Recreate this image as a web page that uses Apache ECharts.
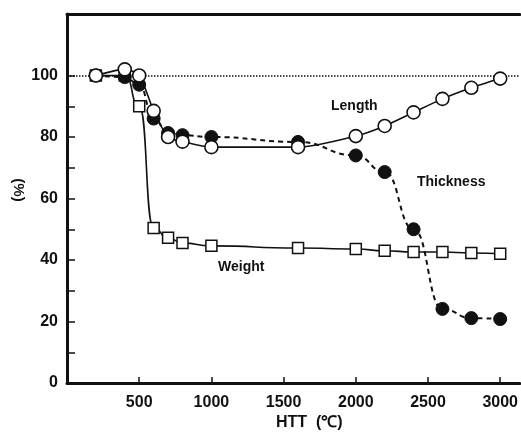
<!DOCTYPE html>
<html>
<head>
<meta charset="utf-8">
<script src="https://cdn.jsdelivr.net/npm/echarts@6/dist/echarts.min.js"></script>
<style>
  html, body { margin: 0; padding: 0; background: #fff; }
  #chart { width: 521px; height: 436px; }
</style>
</head>
<body>
<div id="chart"></div>
<script>
// heat treatment temperature (℃)
const htt = [200, 400, 500, 600, 700, 800, 1000, 1600, 2000, 2200, 2400, 2600, 2800, 3000]
// values in % of the original
const lengthPct = [100, 102, 100, 88.5, 80, 78.5, 76.7, 76.7, 80.3, 83.6, 88, 92.4, 96, 99]
const thicknessPct = [100, 99.5, 97, 86, 81.3, 80.6, 80, 78.4, 74, 68.6, 50, 24.1, 21.1, 20.8]
const weightPct = [100, 100, 90, 50.4, 47.2, 45.5, 44.6, 43.9, 43.6, 43, 42.6, 42.6, 42.3, 42]

const xTicks = [500, 1000, 1500, 2000, 2500, 3000]
const yLabels = [0, 20, 40, 60, 80, 100]
const yTicks = [0, 10, 20, 30, 40, 50, 60, 70, 80, 90, 100]

const ink = '#111'
const font = 'Liberation Sans, Arial, sans-serif'
const xMax = 3135

const pairs = vals => htt.map((x, i) => [x, vals[i]])

const chart = echarts.init(document.getElementById('chart'))

const option = {
  animation: false,
  backgroundColor: '#fff',
  grid: { left: 67, right: 0, top: 14, bottom: 53 },
  xAxis: [
    {
      type: 'value',
      min: 0,
      max: xMax,
      splitLine: { show: false },
      axisLine: { lineStyle: { color: ink, width: 3 } },
      axisTick: { inside: true, length: 6, customValues: xTicks, lineStyle: { color: ink, width: 1.5 } },
      axisLabel: {
        customValues: xTicks,
        formatter: v => String(v),
        margin: 12,
        color: ink,
        fontSize: 16,
        fontWeight: 'bold',
        fontFamily: font
      }
    },
    {
      // top frame line
      type: 'value',
      position: 'top',
      min: 0,
      max: xMax,
      splitLine: { show: false },
      axisLine: { lineStyle: { color: ink, width: 3 } },
      axisTick: { show: false },
      axisLabel: { show: false }
    }
  ],
  yAxis: {
    type: 'value',
    min: 0,
    max: 120,
    splitLine: { show: false },
    axisLine: { lineStyle: { color: ink, width: 3 } },
    axisTick: { inside: true, length: 8, customValues: yTicks, lineStyle: { color: ink, width: 1.5 } },
    axisLabel: {
      customValues: yLabels,
      margin: 9,
      color: ink,
      fontSize: 16,
      fontWeight: 'bold',
      fontFamily: font
    }
  },
  series: [
    {
      name: 'Weight',
      type: 'line',
      data: pairs(weightPct),
      smooth: 0.6,
      smoothMonotone: 'x',
      symbol: 'rect',
      symbolSize: 11,
      itemStyle: { color: '#fff', borderColor: ink, borderWidth: 1.5 },
      lineStyle: { color: ink, width: 1.6 },
      z: 3
    },
    {
      name: 'Thickness',
      type: 'line',
      data: pairs(thicknessPct),
      smooth: 0.5,
      smoothMonotone: 'x',
      symbol: 'circle',
      symbolSize: 13,
      itemStyle: { color: ink, borderColor: ink, borderWidth: 1 },
      lineStyle: { color: ink, width: 2, type: [5, 4] },
      z: 4
    },
    {
      name: 'Length',
      type: 'line',
      data: pairs(lengthPct),
      smooth: 0.25,
      symbol: 'circle',
      symbolSize: 13,
      itemStyle: { color: '#fff', borderColor: ink, borderWidth: 1.6 },
      lineStyle: { color: ink, width: 1.6 },
      z: 5,
      markLine: {
        silent: true,
        symbol: 'none',
        label: { show: false },
        lineStyle: { color: ink, width: 1.5, type: 'dotted' },
        data: [{ yAxis: 100 }],
        z: 1
      }
    }
  ],
  graphic: [
    {
      type: 'text', left: 331, top: 99,
      style: { text: 'Length', font: 'bold 14px ' + font, fill: ink }
    },
    {
      type: 'text', left: 417, top: 175,
      style: { text: 'Thickness', font: 'bold 14px ' + font, fill: ink }
    },
    {
      type: 'text', left: 218, top: 260,
      style: { text: 'Weight', font: 'bold 14px ' + font, fill: ink }
    },
    {
      type: 'text', left: 276, top: 415,
      style: { text: 'HTT  (℃)', font: 'bold 16px ' + font, fill: ink }
    },
    {
      type: 'text', x: 18, y: 190, rotation: -Math.PI / 2,
      style: {
        text: '(%)', font: 'bold 15px ' + font, fill: ink,
        textAlign: 'center', textVerticalAlign: 'middle'
      }
    }
  ]
}

chart.setOption(option)
</script>
</body>
</html>
